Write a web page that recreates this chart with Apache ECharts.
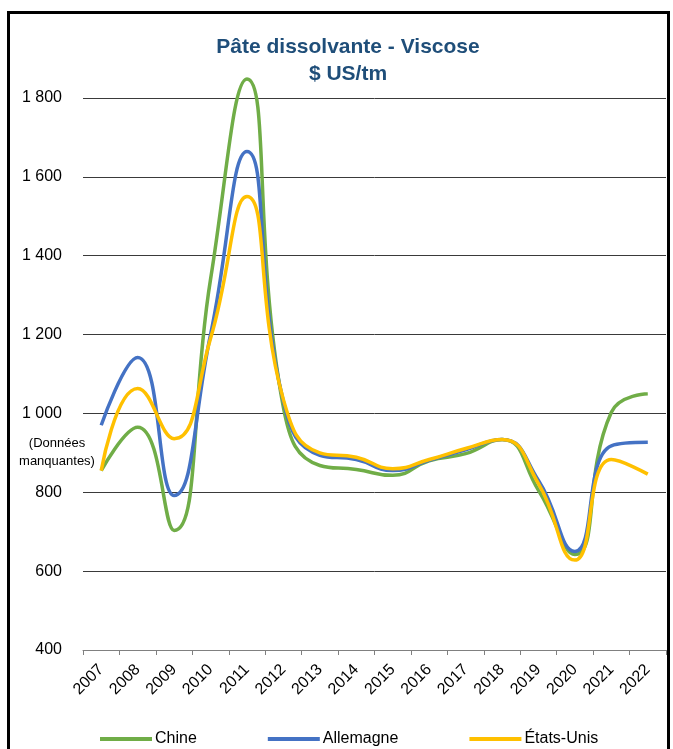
<!DOCTYPE html>
<html>
<head>
<meta charset="utf-8">
<script src="https://cdn.jsdelivr.net/npm/echarts@6/dist/echarts.min.js"></script>
<style>
  html, body { margin: 0; padding: 0; background: #fff; }
  #frame { position: absolute; left: 7px; top: 11px; width: 657px; height: 800px; border: 3px solid #000; box-sizing: content-box; }
  #chart { position: absolute; left: 0; top: 0; width: 673px; height: 749px; }
</style>
</head>
<body>
<div id="frame"></div>
<div id="chart"></div>
<script>
const categories = ['2007','2008','2009','2010','2011','2012','2013','2014','2015','2016','2017','2018','2019','2020','2021','2022'];
const chine      = [855, 965, 703, 1340, 1848, 1015, 868, 858, 843, 880, 898, 934, 805, 642, 1003, 1050];
const allemagne  = [970, 1142, 792, 1200, 1664, 1030, 894, 883, 855, 881, 908, 934, 830, 650, 918, 927];
const etatsUnis  = [855, 1063, 936, 1190, 1550, 1035, 900, 889, 860, 883, 911, 934, 822, 628, 883, 846];
const yTicks = { min: 400, max: 1800, interval: 200 };

const FONT = '"Liberation Sans", Arial, sans-serif';
const chart = echarts.init(document.getElementById('chart'));
function fmt(v) { return String(v).replace(/\B(?=(\d{3})+(?!\d))/g, ' '); }
function series(name, data, color, z) {
  return { name, type: 'line', data, smooth: 0.5, symbol: 'none', clip: false, z,
    lineStyle: { color, width: 3.5 }, itemStyle: { color } };
}
chart.setOption({
  animation: false,
  backgroundColor: 'transparent',
  title: {
    text: 'Pâte dissolvante - Viscose\n$ US/tm',
    left: 343, textAlign: 'center', top: 29,
    textStyle: { fontFamily: FONT, fontWeight: 'bold', fontSize: 21, color: '#1F4E79', lineHeight: 27 }
  },
  grid: { left: 83, right: 7, top: 98, bottom: 99, containLabel: false },
  xAxis: {
    type: 'category', data: categories, boundaryGap: true,
    axisLine: { lineStyle: { color: '#808080', width: 1 } },
    axisTick: { show: true, alignWithLabel: false, length: 5, lineStyle: { color: '#808080' } },
    axisLabel: { rotate: 45, fontFamily: FONT, fontSize: 16, color: '#000', margin: 17, interval: 0 },
    splitLine: { show: false }
  },
  yAxis: {
    type: 'value', min: yTicks.min, max: yTicks.max, interval: yTicks.interval,
    axisLine: { show: false }, axisTick: { show: false },
    axisLabel: { fontFamily: FONT, fontSize: 16, color: '#000', margin: 21, formatter: fmt },
    splitLine: { lineStyle: { color: '#3a3a3a', width: 1 } }
  },
  legend: {
    top: 726, left: 95, itemWidth: 52, itemHeight: 4, itemGap: 71,
    icon: 'rect',
    textStyle: { fontFamily: FONT, fontSize: 16, color: '#000', padding: [0, 0, 0, -2] },
    data: ['Chine', 'Allemagne', 'États-Unis']
  },
  graphic: [{
    type: 'text', x: 57, y: 434,
    style: { text: '(Données\nmanquantes)', fontFamily: FONT, fontSize: 13, lineHeight: 18, fill: '#000', align: 'center', textAlign: 'center' }
  }],
  series: [
    series('Chine', chine, '#70AD47', 3),
    series('Allemagne', allemagne, '#4472C4', 4),
    series('États-Unis', etatsUnis, '#FFC000', 5)
  ]
});
</script>
</body>
</html>
